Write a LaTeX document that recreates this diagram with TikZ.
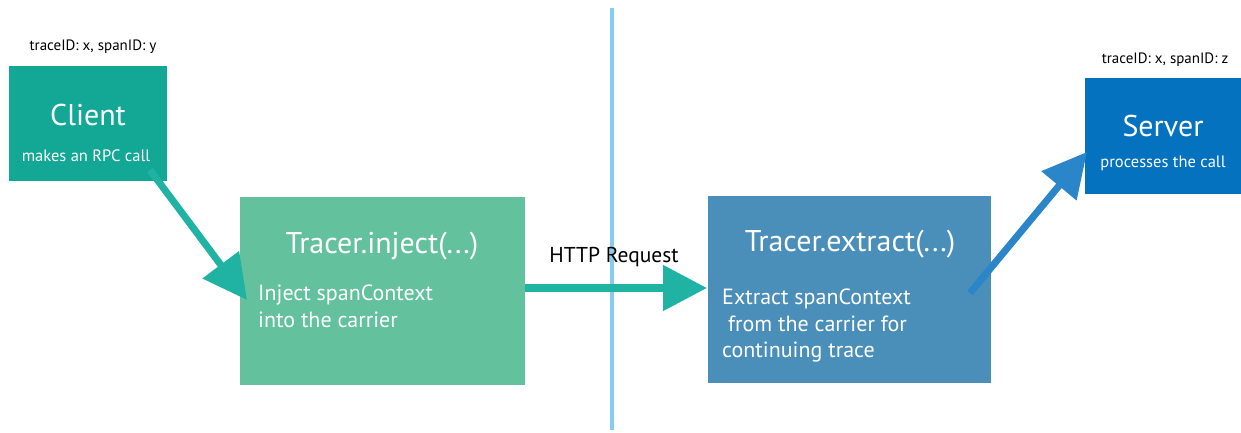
\documentclass[tikz,border=0pt]{standalone}
\usepackage{fontspec}
\setmainfont{PT Sans}
\usetikzlibrary{arrows.meta}
\definecolor{clientc}{HTML}{12A895}
\definecolor{injectc}{HTML}{63C29D}
\definecolor{extractc}{HTML}{4A8FBA}
\definecolor{serverc}{HTML}{0572C0}
\definecolor{tealarrow}{HTML}{20B2A2}
\definecolor{bluearrow}{HTML}{2A86C8}
\definecolor{divider}{HTML}{86CCEE}
\tikzset{
  title/.style={text=white, font=\fontsize{#1}{#1}\selectfont, anchor=center},
  body/.style={text=white, font=\fontsize{22}{26.5}\selectfont, anchor=north west, align=left, inner sep=0pt},
  idlabel/.style={text=black, font=\fontsize{15}{15}\selectfont, inner sep=0pt},
  conn/.style={line width=7pt, -{Triangle[length=44pt,width=44pt]}}
}
\begin{document}
\begin{tikzpicture}[x=1pt,y=-1pt]
\useasboundingbox (0,0) rectangle (1241,433);
% divider
\draw[divider, line width=3.5pt] (612,8) -- (612,430);
% boxes
\fill[clientc] (9,66) rectangle (167,181);
\fill[injectc] (240,197) rectangle (525,385);
\fill[extractc] (708,196) rectangle (991,383);
\fill[serverc] (1085,78) rectangle (1241,194);
% texts
\node[idlabel] (idy) at (93,47) {traceID: x, spanID: y};
\node[idlabel] (idz) at (1165,60) {traceID: x, spanID: z};
\node[title=30] (clientt) at (88,115) {Client};
\node[title=16.5] (clientb) at (86,156) {makes an RPC call};
\node[title=30] (servert) at (1163,126) {Server};
\node[title=16.5] (serverb) at (1163,163) {processes the call};
\node[title=30] (injt) at (382,246) {Tracer.inject(...)};
\node[body] (injb) at (258,285) {Inject spanContext\\into the carrier};
\node[title=30] (extt) at (850,244) {Tracer.extract(...)};
\node[body] (extb) at (722,289) {Extract spanContext\\\ from the carrier for\\continuing trace};
\node[text=black, font=\fontsize{21.5}{21.5}\selectfont, inner sep=0pt] (http) at (614,257) {HTTP Request};
% connectors
\coordinate (c1) at (150,170);
\coordinate (c2) at (247,300);
\coordinate (h1) at (525,288);
\coordinate (h2) at (707,288);
\coordinate (s1) at (970,293);
\coordinate (s2) at (1087,152);
\draw[conn, tealarrow] (c1) -- (c2);
\draw[conn, tealarrow, line width=8pt] (h1) -- (h2);
\draw[conn, bluearrow] (s1) -- (s2);
\end{tikzpicture}
\end{document}
